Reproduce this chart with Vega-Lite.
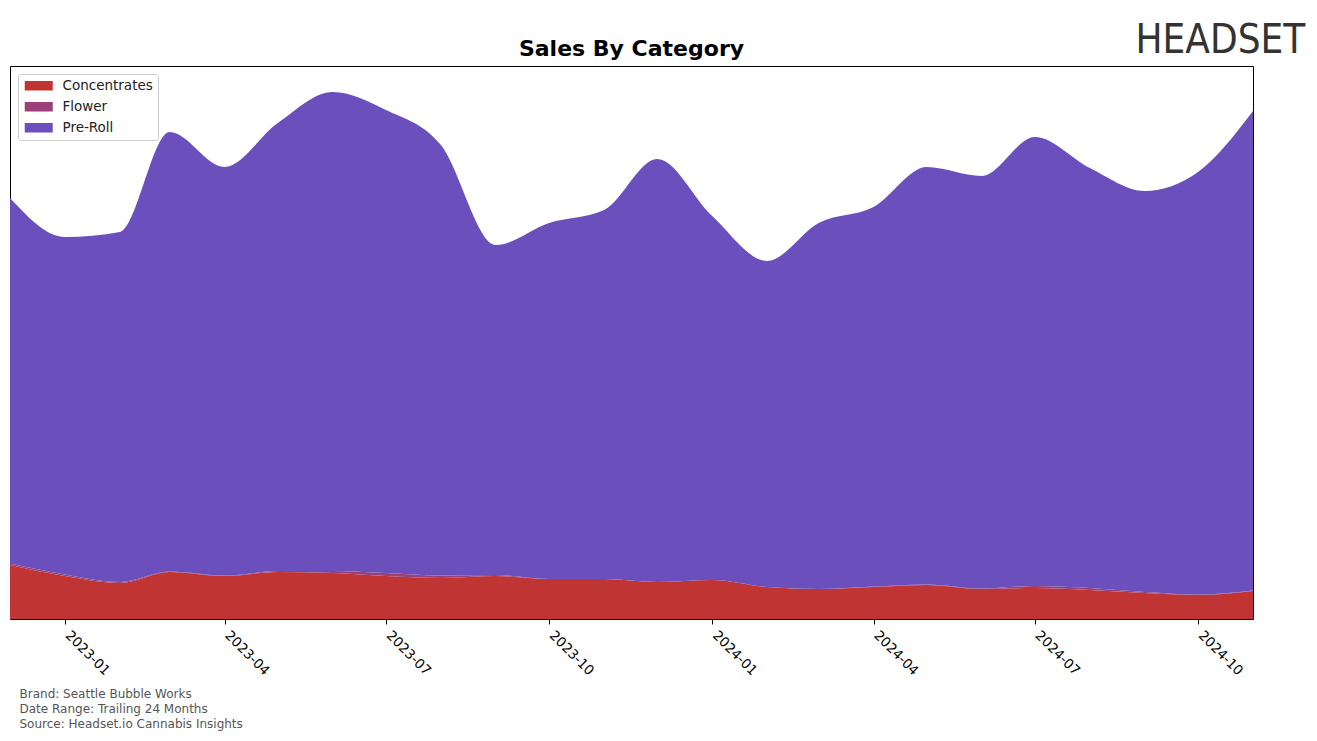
{
  "$schema": "https://vega.github.io/schema/vega-lite/v6.json",
  "width": 1243,
  "height": 553,
  "autosize": {"type": "none"},
  "padding": {"left": 10, "top": 66, "right": 64, "bottom": 122},
  "background": "white",
  "config": {
    "font": "DejaVu Sans",
    "view": {"stroke": "black", "strokeWidth": 1}
  },
  "title": {
    "text": "Sales By Category",
    "fontSize": 22,
    "fontWeight": "bold",
    "font": "DejaVu Sans",
    "color": "black",
    "anchor": "middle",
    "offset": 6,
    "dy": 47
  },
  "data": {
    "values": [
      {"month": "2022-12-01", "category": "Concentrates", "sales": 54},
      {"month": "2022-12-01", "category": "Flower", "sales": 1.5},
      {"month": "2022-12-01", "category": "Pre-Roll", "sales": 365.5},
      {"month": "2023-01-01", "category": "Concentrates", "sales": 43},
      {"month": "2023-01-01", "category": "Flower", "sales": 1.5},
      {"month": "2023-01-01", "category": "Pre-Roll", "sales": 337.5},
      {"month": "2023-02-01", "category": "Concentrates", "sales": 36},
      {"month": "2023-02-01", "category": "Flower", "sales": 1},
      {"month": "2023-02-01", "category": "Pre-Roll", "sales": 350},
      {"month": "2023-03-01", "category": "Concentrates", "sales": 47},
      {"month": "2023-03-01", "category": "Flower", "sales": 0.5},
      {"month": "2023-03-01", "category": "Pre-Roll", "sales": 439.5},
      {"month": "2023-04-01", "category": "Concentrates", "sales": 43},
      {"month": "2023-04-01", "category": "Flower", "sales": 0.5},
      {"month": "2023-04-01", "category": "Pre-Roll", "sales": 408.5},
      {"month": "2023-05-01", "category": "Concentrates", "sales": 47},
      {"month": "2023-05-01", "category": "Flower", "sales": 1},
      {"month": "2023-05-01", "category": "Pre-Roll", "sales": 448},
      {"month": "2023-06-01", "category": "Concentrates", "sales": 46},
      {"month": "2023-06-01", "category": "Flower", "sales": 2},
      {"month": "2023-06-01", "category": "Pre-Roll", "sales": 479},
      {"month": "2023-07-01", "category": "Concentrates", "sales": 43},
      {"month": "2023-07-01", "category": "Flower", "sales": 3},
      {"month": "2023-07-01", "category": "Pre-Roll", "sales": 463},
      {"month": "2023-08-01", "category": "Concentrates", "sales": 41},
      {"month": "2023-08-01", "category": "Flower", "sales": 2.5},
      {"month": "2023-08-01", "category": "Pre-Roll", "sales": 430.5},
      {"month": "2023-09-01", "category": "Concentrates", "sales": 43},
      {"month": "2023-09-01", "category": "Flower", "sales": 1},
      {"month": "2023-09-01", "category": "Pre-Roll", "sales": 330},
      {"month": "2023-10-01", "category": "Concentrates", "sales": 40},
      {"month": "2023-10-01", "category": "Flower", "sales": 0},
      {"month": "2023-10-01", "category": "Pre-Roll", "sales": 356},
      {"month": "2023-11-01", "category": "Concentrates", "sales": 40},
      {"month": "2023-11-01", "category": "Flower", "sales": 0},
      {"month": "2023-11-01", "category": "Pre-Roll", "sales": 369},
      {"month": "2023-12-01", "category": "Concentrates", "sales": 37},
      {"month": "2023-12-01", "category": "Flower", "sales": 0},
      {"month": "2023-12-01", "category": "Pre-Roll", "sales": 423},
      {"month": "2024-01-01", "category": "Concentrates", "sales": 39},
      {"month": "2024-01-01", "category": "Flower", "sales": 0},
      {"month": "2024-01-01", "category": "Pre-Roll", "sales": 364},
      {"month": "2024-02-01", "category": "Concentrates", "sales": 32},
      {"month": "2024-02-01", "category": "Flower", "sales": 0},
      {"month": "2024-02-01", "category": "Pre-Roll", "sales": 326},
      {"month": "2024-03-01", "category": "Concentrates", "sales": 30},
      {"month": "2024-03-01", "category": "Flower", "sales": 0},
      {"month": "2024-03-01", "category": "Pre-Roll", "sales": 366},
      {"month": "2024-04-01", "category": "Concentrates", "sales": 32},
      {"month": "2024-04-01", "category": "Flower", "sales": 0.5},
      {"month": "2024-04-01", "category": "Pre-Roll", "sales": 379.5},
      {"month": "2024-05-01", "category": "Concentrates", "sales": 34},
      {"month": "2024-05-01", "category": "Flower", "sales": 0.5},
      {"month": "2024-05-01", "category": "Pre-Roll", "sales": 417.5},
      {"month": "2024-06-01", "category": "Concentrates", "sales": 30},
      {"month": "2024-06-01", "category": "Flower", "sales": 0.5},
      {"month": "2024-06-01", "category": "Pre-Roll", "sales": 412.5},
      {"month": "2024-07-01", "category": "Concentrates", "sales": 31},
      {"month": "2024-07-01", "category": "Flower", "sales": 2},
      {"month": "2024-07-01", "category": "Pre-Roll", "sales": 449},
      {"month": "2024-08-01", "category": "Concentrates", "sales": 29},
      {"month": "2024-08-01", "category": "Flower", "sales": 2},
      {"month": "2024-08-01", "category": "Pre-Roll", "sales": 420},
      {"month": "2024-09-01", "category": "Concentrates", "sales": 26},
      {"month": "2024-09-01", "category": "Flower", "sales": 1},
      {"month": "2024-09-01", "category": "Pre-Roll", "sales": 401},
      {"month": "2024-10-01", "category": "Concentrates", "sales": 24},
      {"month": "2024-10-01", "category": "Flower", "sales": 0.5},
      {"month": "2024-10-01", "category": "Pre-Roll", "sales": 422.5},
      {"month": "2024-11-01", "category": "Concentrates", "sales": 28},
      {"month": "2024-11-01", "category": "Flower", "sales": 0.5},
      {"month": "2024-11-01", "category": "Pre-Roll", "sales": 479.5}
    ]
  },
  "mark": {"type": "area", "interpolate": "monotone", "opacity": 1},
  "encoding": {
    "x": {
      "field": "month",
      "type": "temporal",
      "scale": {
        "type": "utc",
        "domain": [
          {"year": 2022, "month": 12, "date": 1, "utc": true},
          {"year": 2024, "month": 11, "date": 1, "utc": true}
        ]
      },
      "axis": {
        "values": [
          {"year": 2023, "month": 1, "date": 1, "utc": true},
          {"year": 2023, "month": 4, "date": 1, "utc": true},
          {"year": 2023, "month": 7, "date": 1, "utc": true},
          {"year": 2023, "month": 10, "date": 1, "utc": true},
          {"year": 2024, "month": 1, "date": 1, "utc": true},
          {"year": 2024, "month": 4, "date": 1, "utc": true},
          {"year": 2024, "month": 7, "date": 1, "utc": true},
          {"year": 2024, "month": 10, "date": 1, "utc": true}
        ],
        "labelExpr": "utcFormat(datum.value, '%Y-%m')",
        "labelAngle": 45,
        "labelAlign": "left",
        "labelBaseline": "top",
        "labelFontSize": 13.5,
        "labelColor": "black",
        "labelPadding": 4,
        "labelOffset": 7,
        "labelFlush": false,
        "labelOverlap": false,
        "tickColor": "black",
        "tickSize": 5,
        "tickWidth": 1,
        "domain": false,
        "grid": false,
        "title": ["Brand: Seattle Bubble Works", "Date Range: Trailing 24 Months", "Source: Headset.io Cannabis Insights"],
        "titleX": 9,
        "titleY": 69,
        "titleAlign": "left",
        "titleAnchor": "start",
        "titleBaseline": "top",
        "titleFontSize": 12,
        "titleFontWeight": "normal",
        "titleColor": "#555555",
        "titleLineHeight": 15
      }
    },
    "y": {
      "field": "sales",
      "type": "quantitative",
      "stack": "zero",
      "scale": {"domain": [0, 553], "nice": false, "zero": true},
      "axis": {
        "labels": false,
        "ticks": false,
        "domain": false,
        "grid": false,
        "title": "HEADSET",
        "titleAngle": 0,
        "titleX": 1125,
        "titleY": -46,
        "titleAlign": "left",
        "titleAnchor": null,
        "titleBaseline": "top",
        "titleFont": "DejaVu Sans Condensed, DejaVu Sans",
        "titleFontSize": 40,
        "titleFontWeight": "normal",
        "titleColor": "#333333"
      }
    },
    "order": {"field": "category", "sort": "ascending"},
    "color": {
      "field": "category",
      "type": "nominal",
      "scale": {
        "domain": ["Concentrates", "Flower", "Pre-Roll"],
        "range": ["#C13434", "#994078", "#6A4FBD"]
      },
      "legend": {
        "title": null,
        "orient": "top-left",
        "offset": 8,
        "padding": 5,
        "fillColor": "white",
        "strokeColor": "#cccccc",
        "cornerRadius": 3,
        "symbolType": "M-1,-0.95H4.6V0.95H-1Z",
        "symbolSize": 100,
        "symbolStrokeWidth": 0,
        "symbolOpacity": 1,
        "labelFontSize": 13.5,
        "labelColor": "#222222",
        "labelOffset": 26,
        "rowPadding": 6
      }
    }
  }
}
